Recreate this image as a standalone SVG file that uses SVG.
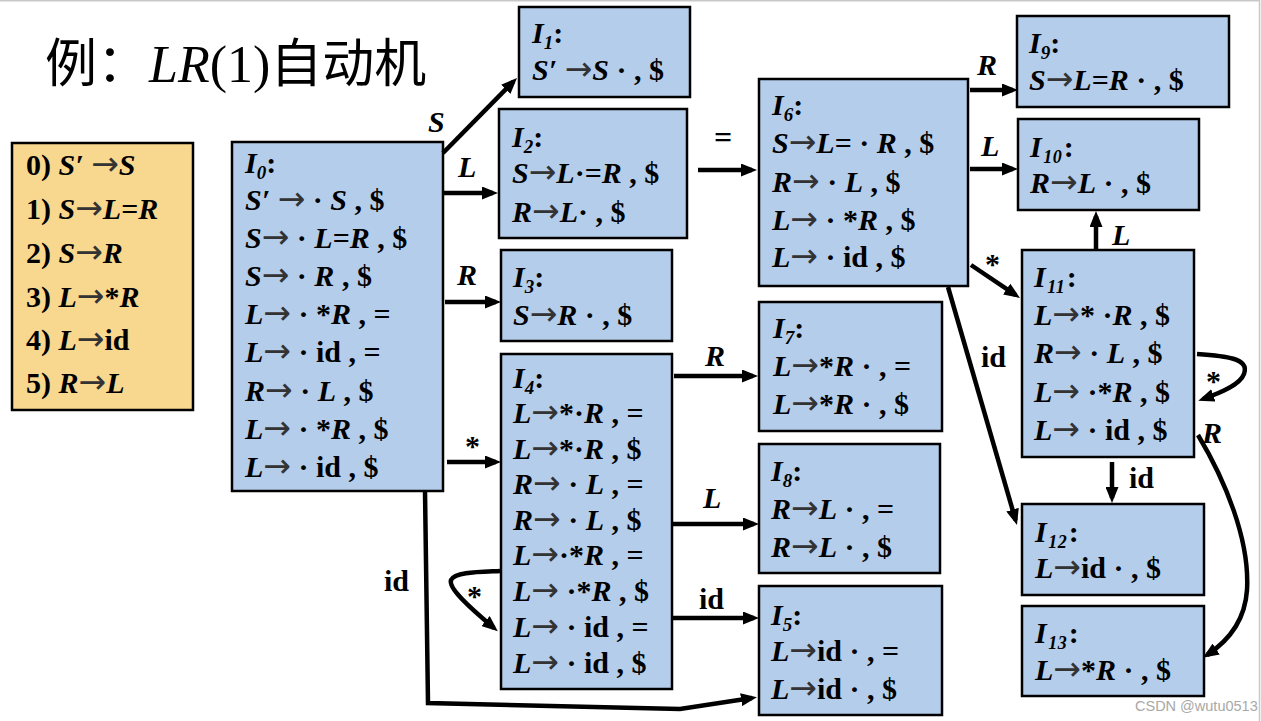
<svg xmlns="http://www.w3.org/2000/svg" width="1261" height="721" viewBox="0 0 1261 721">
<style>
.t{font-family:"Liberation Serif","Tinos","Times New Roman","DejaVu Serif",serif;font-size:30px;font-weight:bold;fill:#000}
.i{font-style:italic}
.s{font-style:italic;font-size:19px}
.s2{font-style:italic;font-size:18px;letter-spacing:0.5px}
.ar{font-family:"DejaVu Sans",sans-serif;font-weight:normal;font-size:33px;fill:#333}
.box{fill:#B4CDEB;stroke:#000;stroke-width:2.5}
.gram{fill:#F8D78E;stroke:#000;stroke-width:2.5}
.c{fill:none;stroke:#000;stroke-width:4.5;marker-end:url(#ah)}
.lb{font-family:"Liberation Serif","Tinos","Times New Roman","DejaVu Serif",serif;font-size:30px;font-weight:bold}
</style>
<defs>
<marker id="ah" viewBox="0 0 16 13" refX="11" refY="6.5" markerWidth="16" markerHeight="13" markerUnits="userSpaceOnUse" orient="auto"><path d="M0,0 L16,6.5 L0,13 z" fill="#000"/></marker>
</defs>
<rect width="1261" height="721" fill="#fff"/>
<path d="M0,0.8 H1259.5 V721" fill="none" stroke="#c8c8c8" stroke-width="1.5"/>

<g id="title">
<text x="45" y="82" font-size="52" fill="#000"><tspan font-family="Noto Sans CJK SC, sans-serif">例：</tspan><tspan font-family="Liberation Serif, Tinos, DejaVu Serif, serif" font-style="italic">LR</tspan><tspan font-family="Liberation Serif, Tinos, DejaVu Serif, serif">(1)</tspan><tspan font-family="Noto Sans CJK SC, sans-serif">自动机</tspan></text>
</g>

<g id="grammar">
<rect class="gram" x="12" y="143" width="181" height="267"/>
<text class="t" x="26" y="175">0) <tspan class="i">S′</tspan> <tspan class="ar">→</tspan><tspan class="i">S</tspan></text>
<text class="t" x="26" y="219">1) <tspan class="i">S</tspan><tspan class="ar">→</tspan><tspan class="i">L</tspan>=<tspan class="i">R</tspan></text>
<text class="t" x="26" y="263">2) <tspan class="i">S</tspan><tspan class="ar">→</tspan><tspan class="i">R</tspan></text>
<text class="t" x="26" y="307">3) <tspan class="i">L</tspan><tspan class="ar">→</tspan>*<tspan class="i">R</tspan></text>
<text class="t" x="26" y="350">4) <tspan class="i">L</tspan><tspan class="ar">→</tspan>id</text>
<text class="t" x="26" y="393">5) <tspan class="i">R</tspan><tspan class="ar">→</tspan><tspan class="i">L</tspan></text>
</g>

<g id="I0">
<rect class="box" x="232" y="142" width="211" height="349"/>
<text class="t" x="245" y="173"><tspan class="i">I</tspan><tspan class="s" dy="6">0</tspan><tspan dy="-6">:</tspan></text>
<text class="t" x="245" y="210"><tspan class="i">S′</tspan> <tspan class="ar">→</tspan> · <tspan class="i">S</tspan> , $</text>
<text class="t" x="245" y="248"><tspan class="i">S</tspan><tspan class="ar">→</tspan> · <tspan class="i">L</tspan>=<tspan class="i">R</tspan> , $</text>
<text class="t" x="245" y="286"><tspan class="i">S</tspan><tspan class="ar">→</tspan> · <tspan class="i">R</tspan> , $</text>
<text class="t" x="245" y="324"><tspan class="i">L</tspan><tspan class="ar">→</tspan> · *<tspan class="i">R</tspan> , =</text>
<text class="t" x="245" y="362"><tspan class="i">L</tspan><tspan class="ar">→</tspan> · id , =</text>
<text class="t" x="245" y="401"><tspan class="i">R</tspan><tspan class="ar">→</tspan> · <tspan class="i">L</tspan> , $</text>
<text class="t" x="245" y="439"><tspan class="i">L</tspan><tspan class="ar">→</tspan> · *<tspan class="i">R</tspan> , $</text>
<text class="t" x="245" y="477"><tspan class="i">L</tspan><tspan class="ar">→</tspan> · id , $</text>
</g>

<g id="I1">
<rect class="box" x="519" y="7" width="171" height="90"/>
<text class="t" x="532" y="43"><tspan class="i">I</tspan><tspan class="s" dy="6">1</tspan><tspan dy="-6">:</tspan></text>
<text class="t" x="532" y="80"><tspan class="i">S′</tspan> <tspan class="ar">→</tspan><tspan class="i">S</tspan> · , $</text>
</g>

<g id="I2">
<rect class="box" x="499" y="109" width="188" height="129"/>
<text class="t" x="512" y="147"><tspan class="i">I</tspan><tspan class="s" dy="6">2</tspan><tspan dy="-6">:</tspan></text>
<text class="t" x="512" y="183"><tspan class="i">S</tspan><tspan class="ar">→</tspan><tspan class="i">L</tspan>·=<tspan class="i">R</tspan> , $</text>
<text class="t" x="512" y="222"><tspan class="i">R</tspan><tspan class="ar">→</tspan><tspan class="i">L</tspan>· , $</text>
</g>

<g id="I3">
<rect class="box" x="501" y="250" width="171" height="91"/>
<text class="t" x="513" y="287"><tspan class="i">I</tspan><tspan class="s" dy="6">3</tspan><tspan dy="-6">:</tspan></text>
<text class="t" x="513" y="325"><tspan class="i">S</tspan><tspan class="ar">→</tspan><tspan class="i">R</tspan> · , $</text>
</g>

<g id="I4">
<rect class="box" x="501" y="354" width="171" height="335"/>
<text class="t" x="513" y="388"><tspan class="i">I</tspan><tspan class="s" dy="6">4</tspan><tspan dy="-6">:</tspan></text>
<text class="t" x="513" y="423"><tspan class="i">L</tspan><tspan class="ar">→</tspan>*·<tspan class="i">R</tspan> , =</text>
<text class="t" x="513" y="459"><tspan class="i">L</tspan><tspan class="ar">→</tspan>*·<tspan class="i">R</tspan> , $</text>
<text class="t" x="513" y="494"><tspan class="i">R</tspan><tspan class="ar">→</tspan> · <tspan class="i">L</tspan> , =</text>
<text class="t" x="513" y="530"><tspan class="i">R</tspan><tspan class="ar">→</tspan> · <tspan class="i">L</tspan> , $</text>
<text class="t" x="513" y="565"><tspan class="i">L</tspan><tspan class="ar">→</tspan>·*<tspan class="i">R</tspan> , =</text>
<text class="t" x="513" y="601"><tspan class="i">L</tspan><tspan class="ar">→</tspan> ·*<tspan class="i">R</tspan> , $</text>
<text class="t" x="513" y="637"><tspan class="i">L</tspan><tspan class="ar">→</tspan> · id , =</text>
<text class="t" x="513" y="673"><tspan class="i">L</tspan><tspan class="ar">→</tspan> · id , $</text>
</g>

<g id="I5">
<rect class="box" x="759" y="586" width="183" height="129"/>
<text class="t" x="771" y="625"><tspan class="i">I</tspan><tspan class="s" dy="6">5</tspan><tspan dy="-6">:</tspan></text>
<text class="t" x="771" y="661"><tspan class="i">L</tspan><tspan class="ar">→</tspan>id · , =</text>
<text class="t" x="771" y="699"><tspan class="i">L</tspan><tspan class="ar">→</tspan>id · , $</text>
</g>

<g id="I6">
<rect class="box" x="759" y="79" width="209" height="207"/>
<text class="t" x="772" y="115"><tspan class="i">I</tspan><tspan class="s" dy="6">6</tspan><tspan dy="-6">:</tspan></text>
<text class="t" x="772" y="153"><tspan class="i">S</tspan><tspan class="ar">→</tspan><tspan class="i">L</tspan>= · <tspan class="i">R</tspan> , $</text>
<text class="t" x="772" y="192"><tspan class="i">R</tspan><tspan class="ar">→</tspan> · <tspan class="i">L</tspan> , $</text>
<text class="t" x="772" y="230"><tspan class="i">L</tspan><tspan class="ar">→</tspan> · *<tspan class="i">R</tspan> , $</text>
<text class="t" x="772" y="267"><tspan class="i">L</tspan><tspan class="ar">→</tspan> · id , $</text>
</g>

<g id="I7">
<rect class="box" x="759" y="302" width="183" height="129"/>
<text class="t" x="773" y="338"><tspan class="i">I</tspan><tspan class="s" dy="6">7</tspan><tspan dy="-6">:</tspan></text>
<text class="t" x="773" y="376"><tspan class="i">L</tspan><tspan class="ar">→</tspan>*<tspan class="i">R</tspan> · , =</text>
<text class="t" x="773" y="414"><tspan class="i">L</tspan><tspan class="ar">→</tspan>*<tspan class="i">R</tspan> · , $</text>
</g>

<g id="I8">
<rect class="box" x="759" y="444" width="181" height="129"/>
<text class="t" x="771" y="481"><tspan class="i">I</tspan><tspan class="s" dy="6">8</tspan><tspan dy="-6">:</tspan></text>
<text class="t" x="771" y="519"><tspan class="i">R</tspan><tspan class="ar">→</tspan><tspan class="i">L</tspan> · , =</text>
<text class="t" x="771" y="557"><tspan class="i">R</tspan><tspan class="ar">→</tspan><tspan class="i">L</tspan> · , $</text>
</g>

<g id="I9">
<rect class="box" x="1017" y="16" width="212" height="91"/>
<text class="t" x="1029" y="53"><tspan class="i">I</tspan><tspan class="s" dy="6">9</tspan><tspan dy="-6">:</tspan></text>
<text class="t" x="1029" y="90"><tspan class="i">S</tspan><tspan class="ar">→</tspan><tspan class="i">L</tspan>=<tspan class="i">R</tspan> · , $</text>
</g>

<g id="I10">
<rect class="box" x="1018" y="119" width="181" height="91"/>
<text class="t" x="1030" y="157"><tspan class="i">I</tspan><tspan class="s2" dx="1.5" dy="6">10</tspan><tspan dx="1.5" dy="-6">:</tspan></text>
<text class="t" x="1030" y="193"><tspan class="i">R</tspan><tspan class="ar">→</tspan><tspan class="i">L</tspan> · , $</text>
</g>

<g id="I11">
<rect class="box" x="1022" y="250" width="172" height="207"/>
<text class="t" x="1034" y="287"><tspan class="i">I</tspan><tspan class="s2" dx="1.5" dy="6">11</tspan><tspan dx="1.5" dy="-6">:</tspan></text>
<text class="t" x="1034" y="325"><tspan class="i">L</tspan><tspan class="ar">→</tspan>* ·<tspan class="i">R</tspan> , $</text>
<text class="t" x="1034" y="363"><tspan class="i">R</tspan><tspan class="ar">→</tspan> · <tspan class="i">L</tspan> , $</text>
<text class="t" x="1034" y="402"><tspan class="i">L</tspan><tspan class="ar">→</tspan> ·*<tspan class="i">R</tspan> , $</text>
<text class="t" x="1034" y="440"><tspan class="i">L</tspan><tspan class="ar">→</tspan> · id , $</text>
</g>

<g id="I12">
<rect class="box" x="1022" y="504" width="182" height="91"/>
<text class="t" x="1035" y="542"><tspan class="i">I</tspan><tspan class="s2" dx="1.5" dy="6">12</tspan><tspan dx="1.5" dy="-6">:</tspan></text>
<text class="t" x="1035" y="578"><tspan class="i">L</tspan><tspan class="ar">→</tspan>id · , $</text>
</g>

<g id="I13">
<rect class="box" x="1022" y="606" width="182" height="90"/>
<text class="t" x="1035" y="643"><tspan class="i">I</tspan><tspan class="s2" dx="1.5" dy="6">13</tspan><tspan dx="1.5" dy="-6">:</tspan></text>
<text class="t" x="1035" y="680"><tspan class="i">L</tspan><tspan class="ar">→</tspan>*<tspan class="i">R</tspan> · , $</text>
</g>

<g id="connectors">
<path class="c" d="M443,153 L513.5,81.5"/>
<path class="c" d="M443,193 L493,193"/>
<path class="c" d="M445,302 L496,302"/>
<path class="c" d="M447,462 L496,462"/>
<path class="c" d="M425,491 L428,703 L680,709 L752,698"/>
<path class="c" d="M500,571 C478,572 455,572 451,580 C448,588 470,608 494,628"/>
<path class="c" d="M674,376 L753,376"/>
<path class="c" d="M673,524 L754,524"/>
<path class="c" d="M673,618 L754,618"/>
<path class="c" d="M698,170 L752,170"/>
<path class="c" d="M970,90 L1013,90"/>
<path class="c" d="M970,169 L1013,169"/>
<path class="c" d="M971,265 L1015.8,295.2"/>
<path class="c" d="M948,287 L1015.6,520.2"/>
<path class="c" d="M1096,249 L1096,216"/>
<path class="c" d="M1197,354 C1225,356 1250,358 1244,374 C1240,385 1220,393 1203,399"/>
<path class="c" d="M1112,462 L1112,498"/>
<path class="c" d="M1198,435 C1225,480 1250,540 1247,590 C1245,620 1230,640 1207,655"/>
<text class="lb i" x="428" y="132">S</text>
<text class="lb i" x="458" y="177">L</text>
<text class="lb i" x="457" y="285">R</text>
<text class="lb" x="465" y="456">*</text>
<text class="lb" x="384" y="591">id</text>
<text class="lb" x="467" y="606">*</text>
<text class="lb i" x="705" y="366">R</text>
<text class="lb i" x="703" y="508">L</text>
<text class="lb" x="699" y="609">id</text>
<text class="lb" x="714" y="148" style="font-size:32px">=</text>
<text class="lb i" x="977" y="75">R</text>
<text class="lb i" x="981" y="156">L</text>
<text class="lb" x="985" y="274">*</text>
<text class="lb" x="981" y="367">id</text>
<text class="lb i" x="1112" y="245">L</text>
<text class="lb" x="1206" y="391">*</text>
<text class="lb" x="1129" y="488">id</text>
<text class="lb i" x="1202" y="443">R</text>
</g>

<text x="1135" y="711" font-family="Liberation Sans, Arial, sans-serif" font-size="14.5" fill="#a8a8a8">CSDN @wutu0513</text>
</svg>
